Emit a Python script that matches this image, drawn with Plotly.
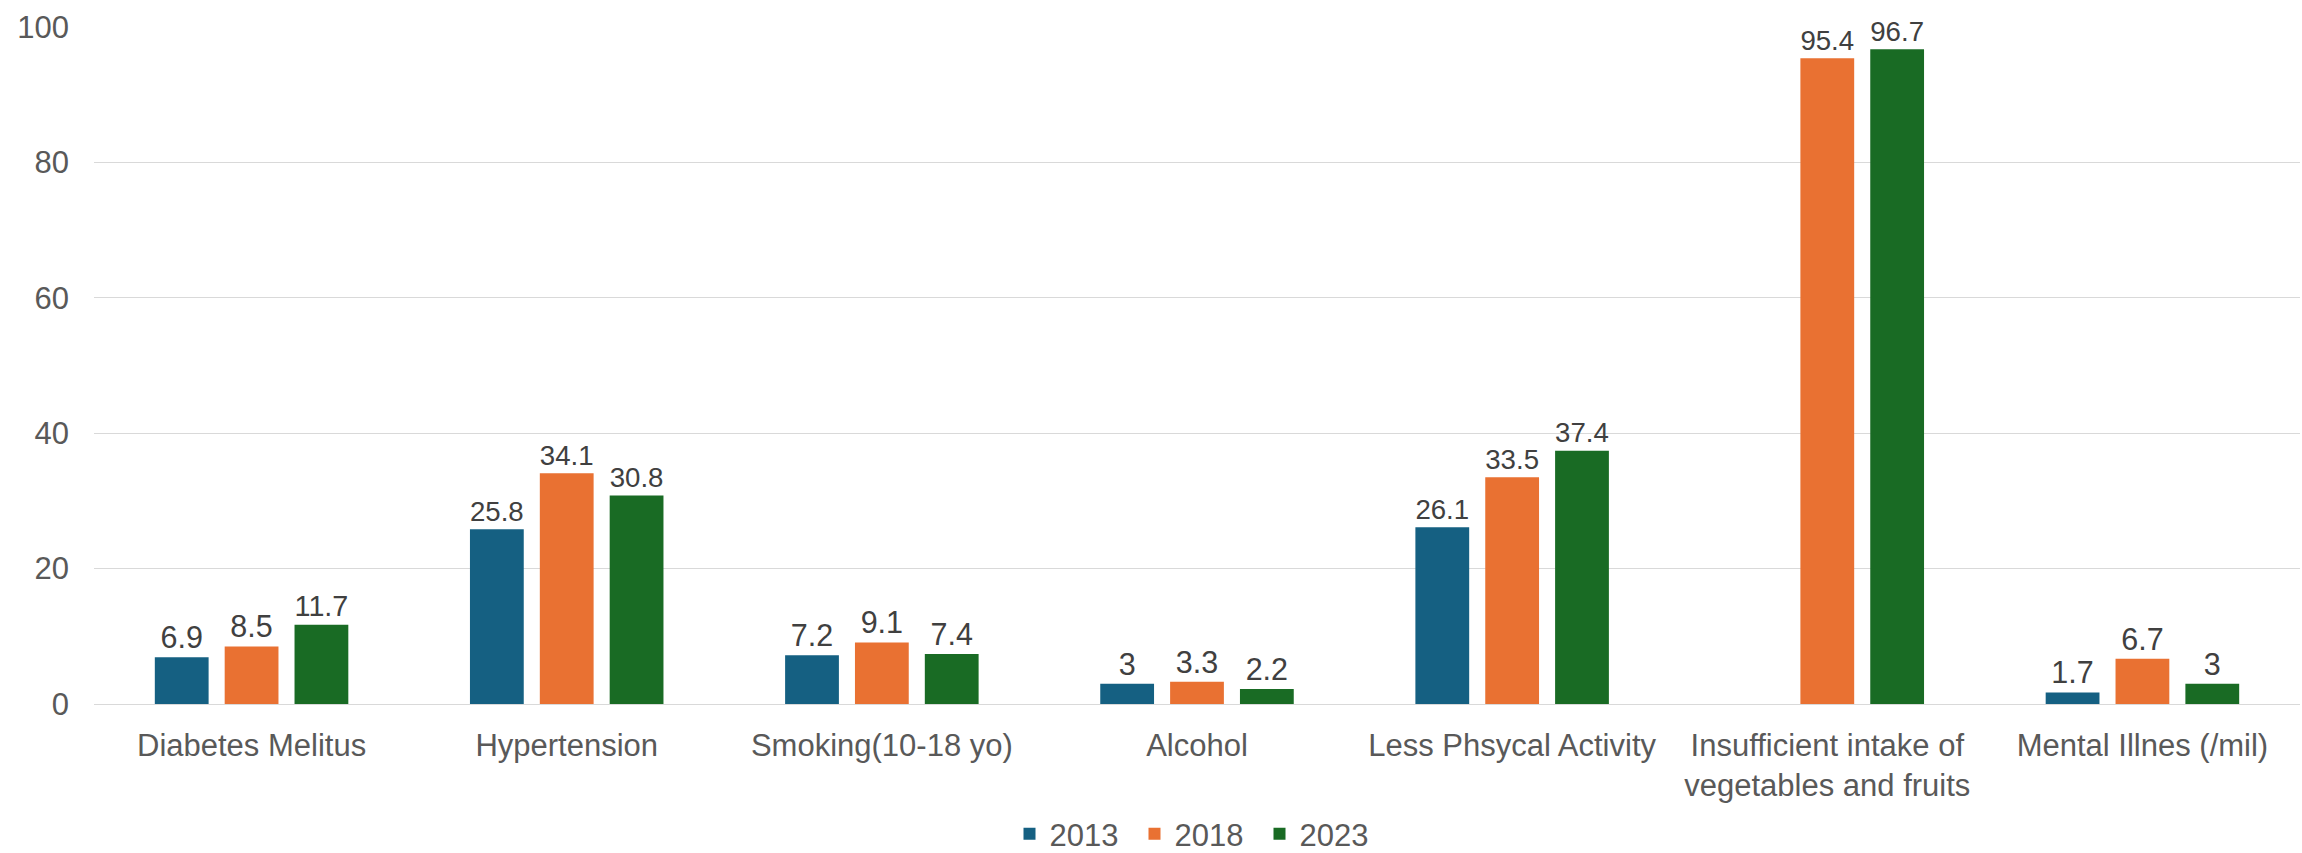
import plotly.graph_objects as go

categories = [
    "Diabetes Melitus",
    "Hypertension",
    "Smoking(10-18 yo)",
    "Alcohol",
    "Less Phsycal Activity",
    "Insufficient intake of<br>vegetables and fruits",
    "Mental Illnes (/mil)",
]
series_names = ["2013", "2018", "2023"]
values_2013 = [6.9, 25.8, 7.2, 3, 26.1, None, 1.7]
values_2018 = [8.5, 34.1, 9.1, 3.3, 33.5, 95.4, 6.7]
values_2023 = [11.7, 30.8, 7.4, 2.2, 37.4, 96.7, 3]
colors = ["#156082", "#E97132", "#196B24"]
y_ticks = [0, 20, 40, 60, 80, 100]

FONT = "Liberation Sans, Arial, sans-serif"

fig = go.Figure()
for name, vals, col in zip(series_names, [values_2013, values_2018, values_2023], colors):
    fig.add_trace(go.Bar(
        name=name,
        x=categories,
        y=vals,
        marker=dict(color=col, line=dict(width=0)),
        text=[("" if v is None else f"{v:g}") for v in vals],
        textposition="outside",
        textfont=dict(family=FONT, size=30.5, color="#404040"),
        cliponaxis=False,
    ))

fig.update_layout(
    width=2302,
    height=853,
    barmode="group",
    bargap=0.335,
    bargroupgap=0.23,
    plot_bgcolor="white",
    paper_bgcolor="white",
    margin=dict(l=94, r=2, t=27, b=149, autoexpand=False),
    font=dict(family=FONT, size=31, color="#595959"),
    legend=dict(
        orientation="h",
        x=0.5,
        xanchor="center",
        y=-0.192,
        yanchor="middle",
        font=dict(family=FONT, size=31, color="#595959"),
        entrywidth=80,
        entrywidthmode="pixels",
    ),
)
fig.update_yaxes(
    range=[0, 100],
    tickvals=y_ticks,
    showgrid=True,
    gridcolor="#D9D9D9",
    gridwidth=1.3,
    zeroline=True,
    zerolinecolor="#D9D9D9",
    zerolinewidth=1.3,
    showline=False,
    automargin=False,
    ticklabelstandoff=24,
    tickfont=dict(family=FONT, size=31, color="#595959"),
)
fig.update_xaxes(
    showline=False,
    automargin=False,
    tickfont=dict(family=FONT, size=31, color="#595959"),
    ticklabelstandoff=20,
)

fig.write_html(
    "out.html",
    config={"displayModeBar": False},
    post_script="document.body.style.margin='0px';document.body.style.overflow='hidden';",
)
